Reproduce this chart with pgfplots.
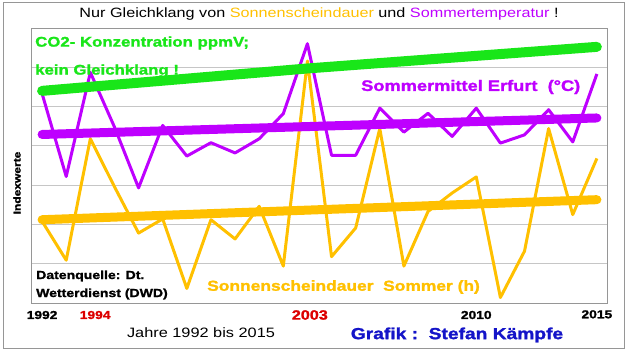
\documentclass[border=0pt]{standalone}
\usepackage{pgfplots}
\pgfplotsset{compat=1.18}
\usepackage{fontspec}
\setmainfont{Liberation Sans}[FakeStretch=1.2, BoldFeatures={FakeBold=1.5}]
\definecolor{cgreen}{RGB}{25,230,25}
\definecolor{cpurple}{RGB}{190,0,255}
\definecolor{cyellow}{RGB}{255,192,0}
\definecolor{cblue}{RGB}{20,20,200}
\definecolor{cred}{RGB}{220,0,0}
\definecolor{frame}{RGB}{150,150,150}
\begin{document}
\begin{tikzpicture}[x=1pt,y=1pt]
\useasboundingbox (0,0) rectangle (628,351);
\draw[frame, line width=1pt] (3,3) rectangle (624,348);
\begin{axis}[
  at={(31pt,48pt)}, anchor=south west, scale only axis,
  width=576pt, height=275pt,
  xmin=1991.54, xmax=2015.42, ymin=0, ymax=7,
  ytick={1,2,3,4,5,6}, yticklabels={},
  ymajorgrids, grid style={gray!45, line width=0.9pt},
  axis line style={frame, line width=1pt},
  xtick={1992,1994.2,2003.1,2010,2015},
  xticklabels={{\fontsize{11.5}{13}\selectfont\bfseries 1992},
               {\fontsize{11.5}{13}\selectfont\bfseries\color{cred}1994},
               {\raisebox{-3pt}{\fontsize{13.5}{15}\selectfont\bfseries\color{cred}2003}},
               {\fontsize{11.5}{13}\selectfont\bfseries 2010},
               {\raisebox{1.5pt}{\fontsize{11.5}{13}\selectfont\bfseries 2015}}},
  xticklabel style={anchor=center, yshift=-12pt},
  major tick length=0pt,
  clip=false,
]
% Sunshine duration (summer)
\addplot[cyellow, line width=3pt, line join=round] coordinates {
(1992,2.08) (1993,1.09) (1994,4.18) (1995,2.96) (1996,1.78) (1997,2.14)
(1998,0.37) (1999,2.12) (2000,1.63) (2001,2.46) (2002,0.94) (2003,6.16)
(2004,1.18) (2005,1.91) (2006,4.44) (2007,0.94) (2008,2.33) (2009,2.80)
(2010,3.21) (2011,0.14) (2012,1.32) (2013,4.44) (2014,2.25) (2015,3.68)};
\addplot[cyellow, line width=9pt, line cap=round] coordinates {(1992,2.12) (2015,2.63)};
% Summer mean temperature Erfurt
\addplot[cpurple, line width=3pt, line join=round] coordinates {
(1992,5.33) (1993,3.22) (1994,5.87) (1995,4.48) (1996,2.93) (1997,4.52)
(1998,3.74) (1999,4.08) (2000,3.82) (2001,4.18) (2002,4.82) (2003,6.60)
(2004,3.76) (2005,3.76) (2006,4.96) (2007,4.35) (2008,4.83) (2009,4.24)
(2010,4.96) (2011,4.07) (2012,4.28) (2013,4.92) (2014,4.10) (2015,5.83)};
\addplot[cpurple, line width=9pt, line cap=round] coordinates {(1992,4.29) (2015,4.71)};
% CO2
\addplot[cgreen, line width=10pt, line cap=round] coordinates {(1992,5.40) (2003,5.97) (2015,6.52)};
\end{axis}
\node[anchor=center] at (319,337) {\fontsize{13.5}{15}\selectfont Nur Gleichklang von \textcolor{cyellow}{Sonnenscheindauer} und \textcolor{cpurple}{Sommertemperatur} !};
\node[anchor=west, text=cgreen, inner sep=0pt] at (35,308) {\fontsize{14}{16}\selectfont\bfseries CO2- Konzentration ppmV;};
\node[anchor=west, text=cgreen, inner sep=0pt] at (35,280) {\fontsize{14}{16}\selectfont\bfseries kein Gleichklang !};
\node[anchor=west, text=cpurple, inner sep=0pt] at (361,264) {\fontsize{15.2}{17}\selectfont\bfseries Sommermittel Erfurt\ \ (°C)};
\node[anchor=west, text=cyellow, inner sep=0pt] at (207,64) {\fontsize{14.5}{16}\selectfont\bfseries Sonnenscheindauer\ \ Sommer (h)};
\node[anchor=west, inner sep=0pt] at (36,75) {\fontsize{11.7}{13}\selectfont\bfseries Datenquelle: Dt.};
\node[anchor=west, inner sep=0pt] at (36,57) {\fontsize{11.7}{13}\selectfont\bfseries Wetterdienst (DWD)};
\node[rotate=90, anchor=center] at (17,168) {\fontsize{10}{12}\selectfont\bfseries Indexwerte};
\node[anchor=center] at (201,18) {\fontsize{13.6}{15}\selectfont Jahre 1992 bis 2015};
\node[anchor=center, text=cblue] at (457,16) {\fontsize{16}{18}\selectfont\bfseries Grafik :\ \ Stefan Kämpfe};
\end{tikzpicture}
\end{document}
